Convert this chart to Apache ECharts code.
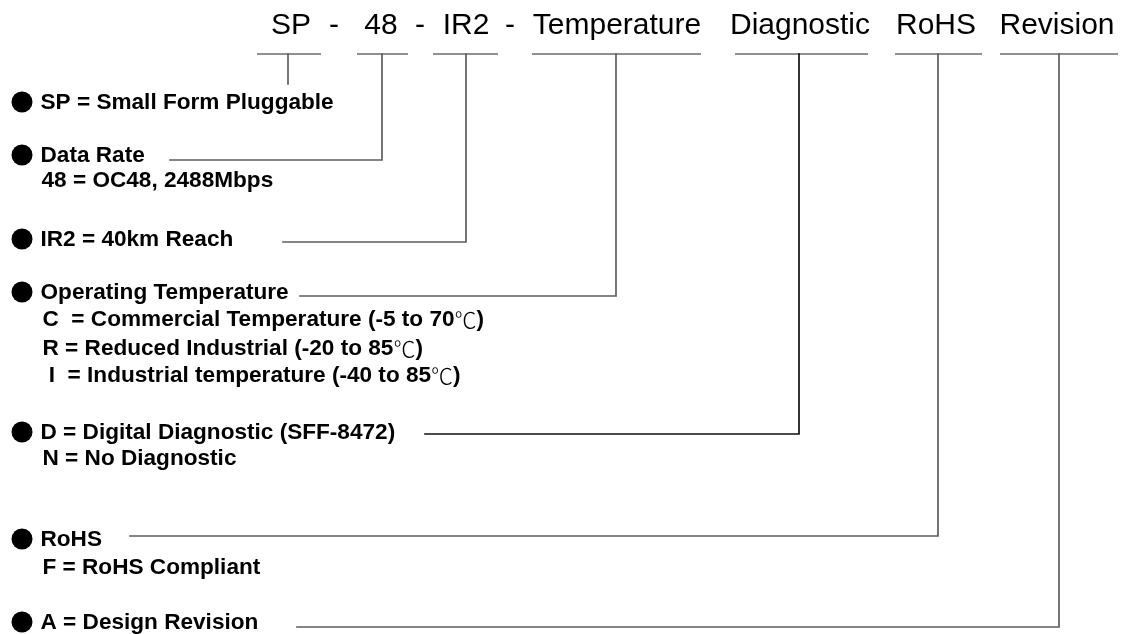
<!DOCTYPE html>
<html>
<head>
<meta charset="utf-8">
<script src="https://cdn.jsdelivr.net/npm/echarts@6/dist/echarts.min.js"></script>
<style>
html,body{margin:0;padding:0;background:#fff;}
#chart{width:1121px;height:634px;}
</style>
</head>
<body>
<div id="chart"></div>
<script>
// ---- Part-number header (tokens and the x where each is centred) ----
const headerTokens = ['SP', '-', '48', '-', 'IR2', '-', 'Temperature', 'Diagnostic', 'RoHS', 'Revision'];
const headerX = [291, 334, 381, 420, 466, 510, 617, 800, 936, 1057];
const headerY = 26;

// ---- Fields of the part number: underline span, drop line and leader ----
const fieldNames = ['SP', '48', 'IR2', 'Temperature', 'Diagnostic', 'RoHS', 'Revision'];
const underlineStart = [257, 357, 433, 532, 735, 895, 1000];
const underlineEnd = [321, 408, 498, 701, 868, 982, 1118];
const underlineY = 54;
const dropX = [288, 382, 466, 616, 799, 938, 1059];
const dropY = [84, 160, 242, 296, 434, 536, 627];
const leaderStartX = [null, 170, 283, 300, 425, 130, 297];

// ---- Description text rows ----
const descText = [
  'SP = Small Form Pluggable',
  'Data Rate',
  '48 = OC48, 2488Mbps',
  'IR2 = 40km Reach',
  'Operating Temperature',
  'C  = Commercial Temperature (-5 to 70℃)',
  'R = Reduced Industrial (-20 to 85℃)',
  ' I  = Industrial temperature (-40 to 85℃)',
  'D = Digital Diagnostic (SFF-8472)',
  'N = No Diagnostic',
  'RoHS',
  'F = RoHS Compliant',
  'A = Design Revision'
];
const descX = [40, 40, 41, 40, 40, 42, 42, 42, 40, 42, 40, 42, 40];
const descY = [103, 156, 181, 240, 293, 320, 349, 376, 433, 459, 540, 568, 623];
const descBullet = [true, true, false, true, true, false, false, false, true, false, true, false, true];
const bulletX = 22;

// ---------------------------------------------------------------
const FONT = '"Liberation Sans", Arial, sans-serif';
const CJK = '"Noto Sans CJK SC", "Noto Sans CJK JP", sans-serif';
const chart = echarts.init(document.getElementById('chart'), null, {renderer: 'canvas'});

// wrap the degree sign in a rich-text run so it draws in a light CJK face
function richDeg(s) {
  return s.split('℃').join('{deg|℃}');
}

const series = [];

fieldNames.forEach((name, i) => {
  series.push({
    type: 'line', name: name + '-underline', silent: true, symbol: 'none',
    lineStyle: {color: '#222', width: 1, opacity: 1},
    data: [[underlineStart[i], underlineY], [underlineEnd[i], underlineY]]
  });
});

fieldNames.forEach((name, i) => {
  const pts = [];
  if (leaderStartX[i] !== null) pts.push([leaderStartX[i], dropY[i]]);
  pts.push([dropX[i], dropY[i]]);
  pts.push([dropX[i], underlineY]);
  series.push({
    type: 'line', name: name + '-leader', silent: true, symbol: 'none',
    lineStyle: {color: name === 'Diagnostic' ? '#111' : '#5e5e5e', width: 1.7, cap: 'square', join: 'miter', opacity: 1},
    data: pts
  });
});

series.push({
  type: 'scatter', name: 'header', silent: true, symbolSize: 1,
  itemStyle: {color: 'rgba(0,0,0,0)', opacity: 1},
  label: {
    show: true, position: 'inside', formatter: p => p.value[2],
    color: '#000', opacity: 1, fontSize: 30, fontFamily: FONT, fontWeight: 'normal',
    align: 'center', verticalAlign: 'middle'
  },
  data: headerTokens.map((t, i) => [headerX[i], headerY, t])
});

series.push({
  type: 'scatter', name: 'bullets', silent: true, symbol: 'circle', symbolSize: 21,
  itemStyle: {color: '#000', opacity: 1},
  data: descText.map((t, i) => descBullet[i] ? [bulletX, descY[i] - 1] : null).filter(d => d)
});

series.push({
  type: 'scatter', name: 'desc', silent: true, symbolSize: 1,
  itemStyle: {color: 'rgba(0,0,0,0)', opacity: 1},
  label: {
    show: true, position: 'right', distance: 0, formatter: p => richDeg(p.value[2]),
    color: '#000', opacity: 1, fontSize: 22.6, fontFamily: FONT, fontWeight: 'bold',
    align: 'left', verticalAlign: 'middle',
    rich: {
      deg: {fontFamily: CJK, fontWeight: 300, fontSize: 22, color: '#000'}
    }
  },
  data: descText.map((t, i) => [descX[i], descY[i], t])
});

chart.setOption({
  animation: false,
  backgroundColor: '#fff',
  grid: {left: 0, right: 0, top: 0, bottom: 0, containLabel: false},
  xAxis: {type: 'value', min: 0, max: 1121, show: false},
  yAxis: {type: 'value', min: 0, max: 634, inverse: true, show: false},
  series: series
});
</script>
</body>
</html>
